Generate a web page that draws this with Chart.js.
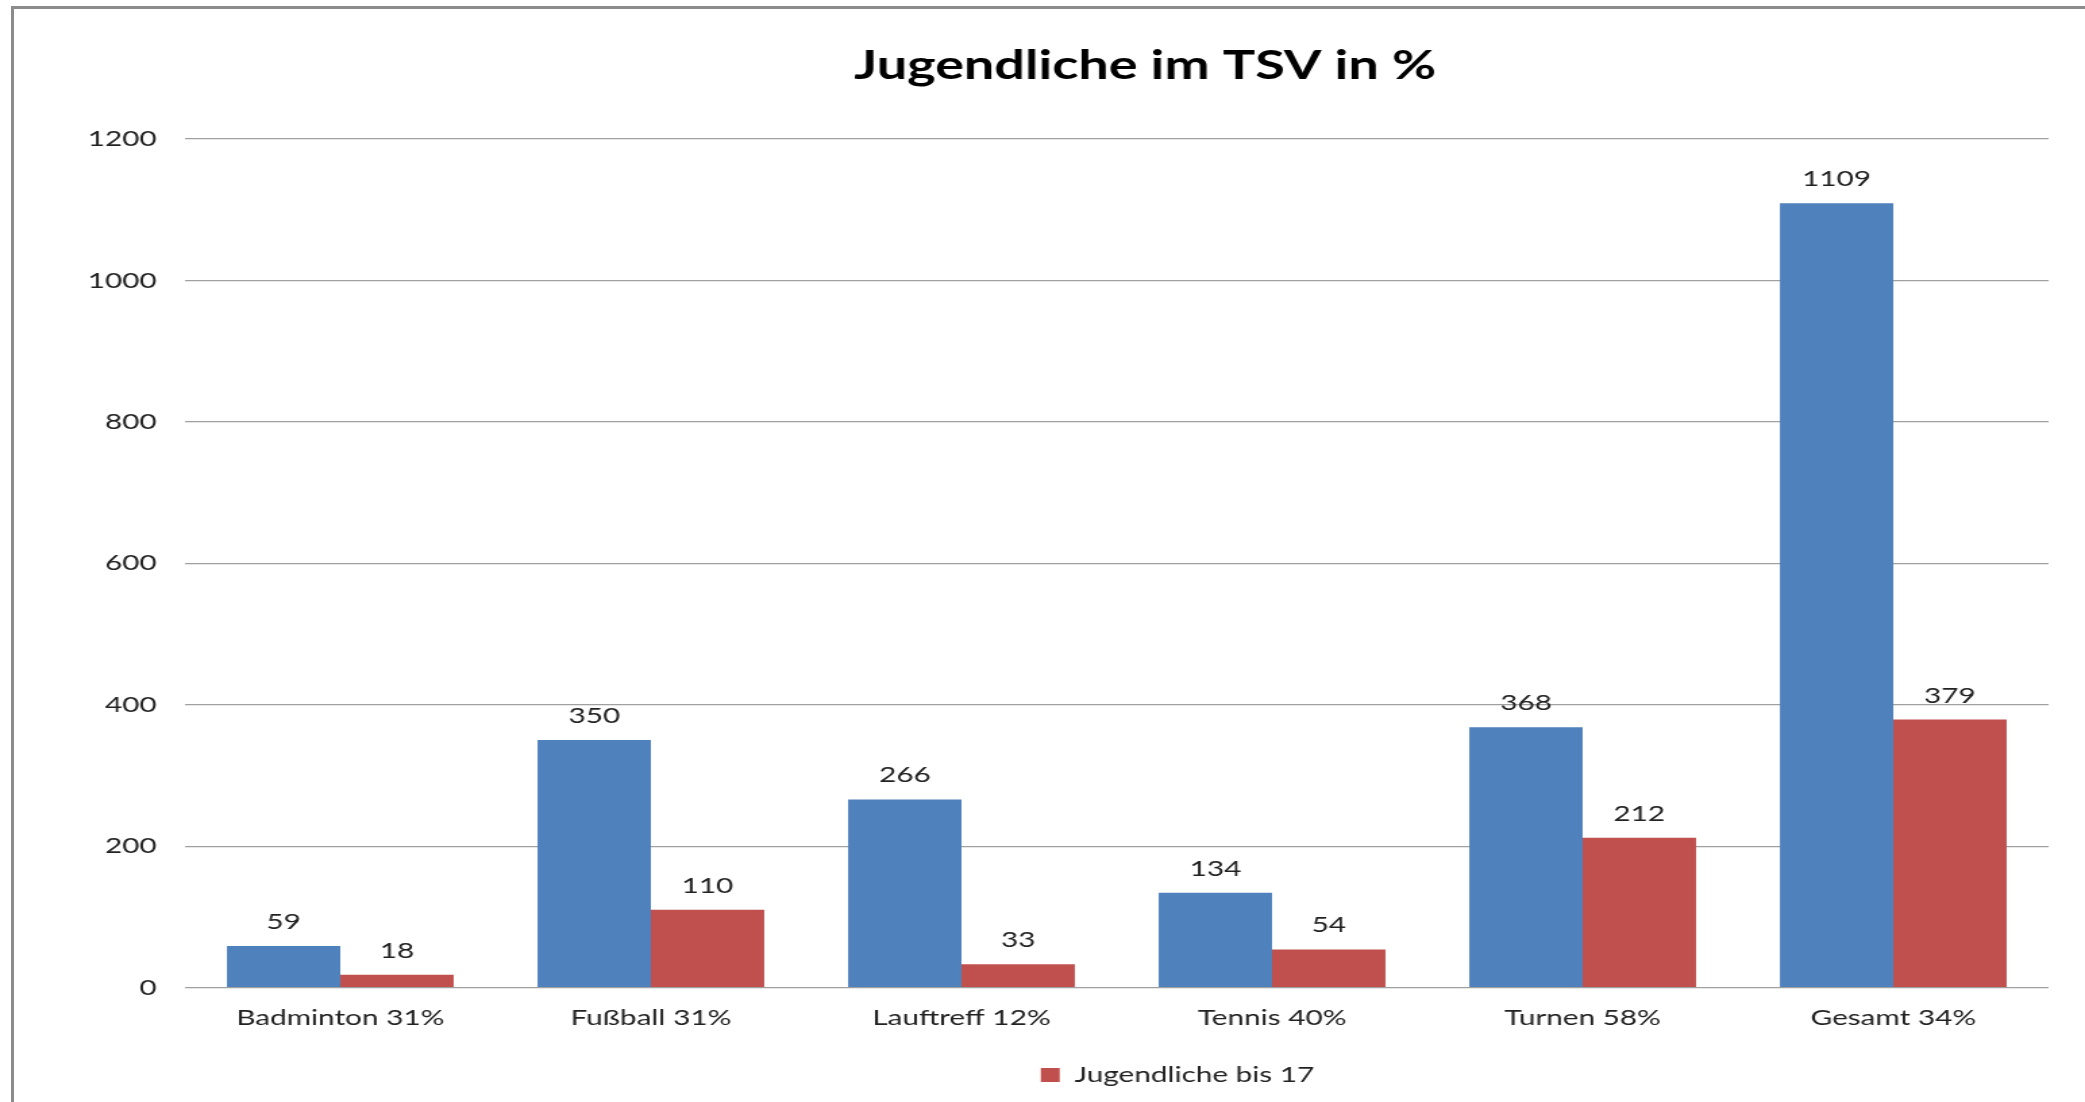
<!DOCTYPE html>
<html>
<head>
<meta charset="utf-8">
<script src="https://cdn.jsdelivr.net/npm/chart.js@4.4.0/dist/chart.umd.min.js"></script>
<style>
  html, body { margin: 0; padding: 0; background: #fff; overflow: hidden; }
  #frame { position: absolute; left: 11px; top: 6px; width: 2200px; height: 1200px; border: 3px solid #8c8c8c; box-sizing: border-box; }
  /* the original picture is stretched sideways, so the canvas is too */
  #wrap { position: absolute; left: 0; top: 0; width: 1544px; height: 1102px; transform: scaleX(1.3504); transform-origin: 0 0; }
</style>
</head>
<body>
<div id="frame"></div>
<div id="wrap"><canvas id="myChart" width="1544" height="1102"></canvas></div>
<script>
const categories = ['Badminton 31%', 'Fußball 31%', 'Lauftreff 12%', 'Tennis 40%', 'Turnen 58%', 'Gesamt 34%'];
const members = [59, 350, 266, 134, 368, 1109];
const youth = [18, 110, 33, 54, 212, 379];
const yTicks = [0, 200, 400, 600, 800, 1000, 1200];

const FONT = 'Lato';

// value above every bar
const valueLabels = {
    id: 'valueLabels',
    afterDatasetsDraw(chart) {
        const ctx = chart.ctx;
        ctx.save();
        ctx.font = '22px ' + FONT;
        ctx.fillStyle = '#222';
        ctx.textAlign = 'center';
        ctx.textBaseline = 'alphabetic';
        chart.data.datasets.forEach((ds, i) => {
            chart.getDatasetMeta(i).data.forEach((bar, j) => {
                ctx.fillText(ds.data[j], bar.x, bar.y - 17);
            });
        });
        ctx.restore();
    }
};

// title and legend are not centred on the canvas in the original
const placeBoxes = {
    id: 'placeBoxes',
    afterLayout(chart) {
        const t = chart.titleBlock;
        if (t) {
            const dx = 848 - (t.left + t.right) / 2;
            t.left += dx; t.right += dx;
        }
        const l = chart.legend;
        if (l) {
            const dx = 872 - (l.left + l.right) / 2;
            l.left += dx; l.right += dx;
            const dy = 1054 - l.top;
            l.top += dy; l.bottom += dy;
        }
    }
};

const data = {
    labels: categories,
    datasets: [{
        label: 'Mitglieder',
        backgroundColor: '#4F81BD',
        data: members,
    }, {
        label: 'Jugendliche bis 17',
        backgroundColor: '#C0504D',
        data: youth,
    }]
};

const config = {
    type: 'bar',
    data: data,
    options: {
        responsive: false,
        devicePixelRatio: 1,
        animation: false,
        layout: { padding: { left: 0, right: 27, top: 0, bottom: 20 } },
        datasets: {
            bar: { categoryPercentage: 0.73, barPercentage: 1.0 }
        },
        plugins: {
            title: {
                display: true,
                text: 'Jugendliche im TSV in %',
                color: '#000',
                font: { family: FONT, size: 40, weight: 'bold' },
                padding: { top: 42, bottom: 49 }
            },
            legend: {
                position: 'bottom',
                labels: {
                    filter: item => item.datasetIndex === 1,
                    boxWidth: 14,
                    boxHeight: 14,
                    padding: 10,
                    color: '#222',
                    font: { family: FONT, size: 22 }
                }
            },
            tooltip: { enabled: false }
        },
        scales: {
            x: {
                grid: { display: false },
                border: { display: false },
                ticks: {
                    color: '#222',
                    padding: 9,
                    font: { family: FONT, size: 22 }
                }
            },
            y: {
                min: 0,
                max: 1200,
                afterBuildTicks: s => { s.ticks = yTicks.map(v => ({ value: v })); },
                afterFit: s => { s.width = 137; },
                grid: { color: '#a0a0a0', lineWidth: 1.3, drawTicks: false },
                border: { display: false },
                ticks: {
                    color: '#222',
                    padding: 21,
                    callback: v => String(v),
                    font: { family: FONT, size: 22 }
                }
            }
        }
    },
    plugins: [valueLabels, placeBoxes]
};

const myChart = new Chart(
    document.getElementById('myChart'),
    config
);
</script>
</body>
</html>
